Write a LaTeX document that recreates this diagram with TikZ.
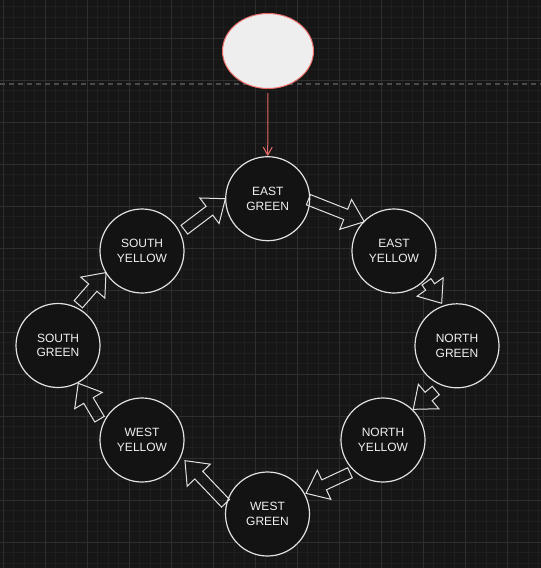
\documentclass[tikz,border=0pt]{standalone}
\usepackage{fontspec}
\setmainfont{Liberation Sans}
\usetikzlibrary{shapes.geometric,calc,arrows.meta}

\definecolor{bgdark}{HTML}{161616}
\definecolor{gridlo}{HTML}{1F1F1F}
\definecolor{gridhi}{HTML}{2E2E2E}
\definecolor{sepgrey}{HTML}{4A4A4A}
\definecolor{statefill}{HTML}{131313}
\definecolor{stateline}{HTML}{E2E2E2}
\definecolor{statetext}{HTML}{F0F0F0}
\definecolor{startred}{HTML}{EA6B66}
\definecolor{startfill}{HTML}{EEEEEE}

\tikzset{
  statenode/.style={circle, draw=stateline, line width=1.2pt, fill=statefill,
    minimum size=84pt, inner sep=0pt, align=center, text=statetext,
    font=\fontsize{12}{14.5}\selectfont},
  startnode/.style={ellipse, draw=startred, line width=1pt, fill=startfill,
    minimum width=91pt, minimum height=75pt},
  flowline/.style={draw=stateline, line width=1pt, line join=miter},
}

% hollow block arrow: tail = node #1 at angle #2, distance #3; tip = node #4 at angle #5, distance #6
\newcommand{\flowarrow}[6]{%
  \coordinate (ta) at ($(#1)+(#2:#3pt)$);
  \coordinate (tb) at ($(#4)+(#5:#6pt)$);
  \coordinate (hb) at ($(tb)!20pt!(ta)$);
  \draw[flowline] ($(ta)!5.5pt!90:(tb)$) -- ($(hb)!5.5pt!90:(tb)$)
    -- ($(hb)!16pt!90:(tb)$) -- (tb) -- ($(hb)!16pt!-90:(tb)$)
    -- ($(hb)!5.5pt!-90:(tb)$) -- ($(ta)!5.5pt!-90:(tb)$) -- cycle;
}

\begin{document}
\begin{tikzpicture}[x=1pt, y=-1pt]
  \useasboundingbox[fill=bgdark] (0,0) rectangle (541,568);
  \begin{scope}
    \clip (0,0) rectangle (541,568);
    \begin{scope}[shift={(3.3pt,4pt)}]
      \draw[gridlo, line width=0.8pt, step=10.5pt] (-20pt,20pt) grid (560pt,-590pt);
      \draw[gridhi, line width=0.9pt, step=42pt] (-20pt,20pt) grid (560pt,-590pt);
    \end{scope}
  \end{scope}
  \draw[sepgrey, line width=1.6pt, dash pattern=on 5pt off 4pt] (0,84) -- (541,84);

  \node[startnode] (st) at (268,51) {};

  \node[statenode] (eg) at (267.7,198.7) {EAST\\GREEN};
  \node[statenode] (ey) at (394,251) {EAST\\YELLOW};
  \node[statenode] (ng) at (457,345.8) {NORTH\\GREEN};
  \node[statenode] (ny) at (383,440) {NORTH\\YELLOW};
  \node[statenode] (wg) at (267.5,514) {WEST\\GREEN};
  \node[statenode] (wy) at (142,440) {WEST\\YELLOW};
  \node[statenode] (sg) at (58,345.5) {SOUTH\\GREEN};
  \node[statenode] (sy) at (142,251) {SOUTH\\YELLOW};

  \draw[startred, line width=1pt, shorten <=4pt, -{Straight Barb[length=8pt,width=9pt]}] (st.south) -- (eg.north);

  \flowarrow{sy}{26.7}{47.4}{eg}{180}{42.3}
  \flowarrow{eg}{-1.4}{40.7}{ey}{135.4}{41.7}
  \flowarrow{ey}{-43.5}{44.8}{ng}{109.8}{45.2}
  \flowarrow{ng}{-115.4}{49.5}{ny}{45.4}{43.1}
  \flowarrow{ny}{-135.2}{46.5}{wg}{28.3}{43.7}
  \flowarrow{wg}{165.7}{43.3}{wy}{-25.7}{47.7}
  \flowarrow{wy}{153.9}{47.3}{sg}{-61.8}{42.9}
  \flowarrow{sg}{63.8}{46}{sy}{-149.1}{42}
\end{tikzpicture}
\end{document}
